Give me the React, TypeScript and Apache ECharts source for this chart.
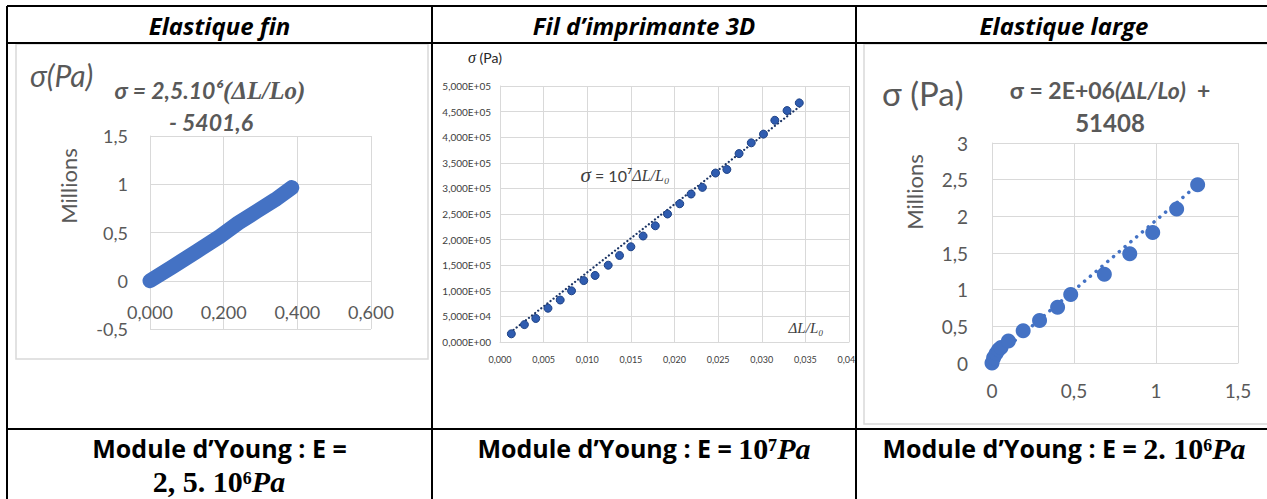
import React, { useEffect, useRef } from 'react';
import * as echarts from 'echarts';

const W = 1267;
const H = 499;

const SANS = 'Lato, "Liberation Sans", sans-serif';
const HEAD = '"Open Sans", "Liberation Sans", sans-serif';
const SERIF = '"Liberation Serif", "DejaVu Serif", serif';
const GREY = '#595959';
const GRID = '#d9d9d9';
const BLUE = '#4472c4';

// Table text
const headers = ['Elastique fin', 'Fil d’imprimante 3D', 'Elastique large'];

// Elastique fin: stress (millions of Pa) against strain ΔL/Lo
const finStrain = [0, 0.063, 0.127, 0.19, 0.24, 0.29, 0.34, 0.385];
const finStress = [0, 0.15, 0.305, 0.46, 0.6, 0.72, 0.84, 0.965];
const finXTicks = [0, 0.2, 0.4, 0.6];
const finYTicks = [-0.5, 0, 0.5, 1, 1.5];

// Fil d'imprimante 3D: stress (Pa) against strain ΔL/L0
const filStrain = [
  0.0013, 0.0028, 0.0041, 0.0055, 0.0069, 0.0082, 0.0096, 0.0109, 0.0124, 0.0137, 0.015, 0.0164, 0.0178,
  0.0192, 0.0206, 0.0219, 0.0232, 0.0247, 0.026, 0.0274, 0.0288, 0.0302, 0.0315, 0.0329, 0.0343,
];
const filStress = [
  16000, 34000, 46000, 66000, 82000, 100000, 120000, 130000, 150000, 169000, 186000, 207000, 227000,
  250000, 270000, 289000, 302000, 330000, 337000, 368000, 389000, 406000, 433000, 452000, 467000,
];
const filTrendStrain = [0.0012, 0.0345];
const filTrendStress = [19000, 462000];
const filXTicks = [0, 0.005, 0.01, 0.015, 0.02, 0.025, 0.03, 0.035, 0.04];
const filYTicks = [0, 50000, 100000, 150000, 200000, 250000, 300000, 350000, 400000, 450000, 500000];

// Elastique large: stress (millions of Pa) against strain ΔL/Lo
const largeStrain = [0, 0.01, 0.025, 0.04, 0.055, 0.1, 0.19, 0.29, 0.4, 0.48, 0.685, 0.84, 0.98, 1.126, 1.254];
const largeStress = [0, 0.07, 0.13, 0.18, 0.21, 0.3, 0.44, 0.58, 0.76, 0.935, 1.21, 1.49, 1.78, 2.1, 2.43];
const largeTrendStrain = [0, 1.254];
const largeTrendStress = [0.04, 2.43];
const largeXTicks = [0, 0.5, 1, 1.5];
const largeYTicks = [0, 0.5, 1, 1.5, 2, 2.5, 3];

const pairs = (xs: number[], ys: number[]) => xs.map((x, i) => [x, ys[i]]);
const comma = (s: string) => s.replace('.', ',');
const sci = (v: number) => {
  if (v === 0) return '0,000E+00';
  const e = Math.floor(Math.log10(v) + 1e-9);
  const m = v / Math.pow(10, e);
  return `${comma(m.toFixed(3))}E+${String(e).padStart(2, '0')}`;
};

const tickSpan = (t: number[]) => ({ min: t[0], max: t[t.length - 1], interval: t[1] - t[0] });

const baseAxis = (labelSize: number, color: string, margin: number) => ({
  type: 'value' as const,
  axisTick: { show: false },
  axisLine: { show: true, onZero: false, lineStyle: { color: GRID, width: 1 } },
  splitLine: { show: true, lineStyle: { color: GRID, width: 1 } },
  axisLabel: { fontSize: labelSize, color, margin, fontFamily: SANS },
});

const txt = (x: number, y: number, style: any, extra: any = {}) => ({
  type: 'text',
  x,
  y,
  z: 50,
  style: { align: 'center', verticalAlign: 'middle', fontFamily: SANS, ...style },
  ...extra,
});

const line = (x1: number, y1: number, x2: number, y2: number) => ({
  type: 'line',
  z: 60,
  shape: { x1, y1, x2, y2 },
  style: { stroke: '#000', lineWidth: 2 },
});

const youngRich = {
  t: { fontSize: 25, fontWeight: 'bold', fill: '#000', fontFamily: HEAD },
  n: { fontSize: 30, fontWeight: 'bold', fill: '#000', fontFamily: SERIF },
  p: { fontSize: 30, fontWeight: 'bold', fontStyle: 'italic', fill: '#000', fontFamily: SERIF },
};

export default function App() {
  const ref = useRef<HTMLDivElement>(null);

  useEffect(() => {
    document.body.style.margin = '0';
    if (!ref.current) return;
    const chart = echarts.init(ref.current, null, { renderer: 'svg', width: W, height: H });

    const colCenters = [219.5, 644, 1064];

    // Elastique fin grid: the strain axis crosses the stress axis at zero
    const finGrid = { left: 150, top: 136, width: 221, height: 193 };
    const finYMin = finYTicks[0];
    const finYMax = finYTicks[finYTicks.length - 1];
    const finZeroOffset = -((0 - finYMin) / (finYMax - finYMin)) * finGrid.height;

    const graphic: any[] = [
      // chart frames
      { type: 'rect', z: 1, shape: { x: 16, y: 44, width: 412, height: 315 }, style: { fill: 'none', stroke: GRID, lineWidth: 1.5 } },
      { type: 'rect', z: 1, shape: { x: 864, y: 44, width: 420, height: 380 }, style: { fill: 'none', stroke: GRID, lineWidth: 1.5 } },
      // the printer-filament picture is cut at its cell edge
      { type: 'rect', z: 55, shape: { x: 857, y: 350, width: 6, height: 24 }, style: { fill: '#fff' } },
      // table rules
      line(7, 6, W + 10, 6),
      line(7, 43, W + 10, 43),
      line(7, 429, W + 10, 429),
      line(7, 6, 7, H + 5),
      line(432, 6, 432, H + 5),
      line(856, 6, 856, H + 5),
      // headers
      ...headers.map((h, i) =>
        txt(colCenters[i], 25, { text: h, fontSize: 24, fontWeight: 'bold', fontStyle: 'italic', fill: '#000', fontFamily: HEAD })
      ),
      // Elastique fin annotations
      txt(30, 75, { text: 'σ(Pa)', fontSize: 30, fontStyle: 'italic', fill: GREY, align: 'left' }),
      txt(210, 90, {
        text: '{a|σ = 2,5.10⁶}{b|(ΔL/Lo)}',
        rich: {
          a: { fontSize: 23, fontWeight: 'bold', fontStyle: 'italic', fill: GREY, fontFamily: SANS },
          b: { fontSize: 25, fontWeight: 'bold', fontStyle: 'italic', fill: GREY, fontFamily: SERIF },
        },
      }),
      txt(211, 122, { text: '- 5401,6', fontSize: 23, fontWeight: 'bold', fontStyle: 'italic', fill: GREY }),
      txt(68, 186, { text: 'Millions', fontSize: 22, fill: GREY }, { rotation: Math.PI / 2 }),
      // Fil d'imprimante annotations
      txt(485, 57, {
        text: '{s|σ}{t| (Pa)}',
        rich: {
          s: { fontSize: 16, fontStyle: 'italic', fill: '#262626', fontFamily: SERIF },
          t: { fontSize: 14, fill: '#262626', fontFamily: SANS },
        },
      }),
      txt(625, 175, {
        text: '{s|σ}{t| = 10⁷}{m|ΔL/L₀}',
        rich: {
          s: { fontSize: 21, fontStyle: 'italic', fill: '#404040', fontFamily: SERIF },
          t: { fontSize: 16, fill: '#404040', fontFamily: SANS },
          m: { fontSize: 16, fontStyle: 'italic', fill: '#404040', fontFamily: SERIF },
        },
      }),
      txt(806, 328, { text: 'ΔL/L₀', fontSize: 15, fontStyle: 'italic', fill: '#404040', fontFamily: SERIF }),
      // Elastique large annotations
      txt(882, 93, { text: 'σ (Pa)', fontSize: 33, fill: GREY, align: 'left' }),
      txt(1110, 90, {
        text: '{a|σ = 2E+06}{b|(ΔL/Lo)}{a|  +}',
        rich: {
          a: { fontSize: 23, fontWeight: 'bold', fill: GREY, fontFamily: SANS },
          b: { fontSize: 23, fontWeight: 'bold', fontStyle: 'italic', fill: GREY, fontFamily: SANS },
        },
      }),
      txt(1110, 122, { text: '51408', fontSize: 24, fontWeight: 'bold', fill: GREY }),
      txt(914, 192, { text: 'Millions', fontSize: 22, fill: GREY }, { rotation: Math.PI / 2 }),
      // Young's modulus row
      txt(219.5, 448, { text: 'Module d’Young : E =', fontSize: 25, fontWeight: 'bold', fill: '#000', fontFamily: HEAD }),
      txt(219, 481, { text: '{n|2, 5. 10⁶}{p|Pa}', rich: youngRich }),
      txt(644, 448, { text: '{t|Module d’Young : E = }{n|10⁷}{p|Pa}', rich: youngRich }),
      txt(1064, 448, { text: '{t|Module d’Young : E = }{n|2. 10⁶}{p|Pa}', rich: youngRich }),
    ];

    const finX = baseAxis(18, GREY, 22);
    const finY = baseAxis(18, GREY, 22);
    const filX = baseAxis(9, '#404040', 13);
    const filY = baseAxis(10, '#404040', 9);
    const largeX = baseAxis(19, GREY, 18);
    const largeY = baseAxis(19, GREY, 24);

    chart.setOption({
      animation: false,
      backgroundColor: '#fff',
      textStyle: { fontFamily: SANS },
      grid: [
        finGrid,
        { left: 500, top: 86, width: 349, height: 256 },
        { left: 992, top: 143, width: 246, height: 220 },
      ],
      xAxis: [
        {
          ...finX,
          gridIndex: 0,
          offset: finZeroOffset,
          ...tickSpan(finXTicks),
          axisLabel: { ...finX.axisLabel, formatter: (v: number) => comma(v.toFixed(3)) },
        },
        { ...filX, gridIndex: 1, ...tickSpan(filXTicks), axisLabel: { ...filX.axisLabel, formatter: (v: number) => comma(v.toFixed(3)) } },
        { ...largeX, gridIndex: 2, ...tickSpan(largeXTicks), axisLabel: { ...largeX.axisLabel, formatter: (v: number) => comma(String(v)) } },
      ],
      yAxis: [
        { ...finY, gridIndex: 0, ...tickSpan(finYTicks), axisLabel: { ...finY.axisLabel, formatter: (v: number) => comma(String(v)) } },
        { ...filY, gridIndex: 1, ...tickSpan(filYTicks), axisLabel: { ...filY.axisLabel, formatter: sci } },
        { ...largeY, gridIndex: 2, ...tickSpan(largeYTicks), axisLabel: { ...largeY.axisLabel, formatter: (v: number) => comma(String(v)) } },
      ],
      series: [
        {
          type: 'line',
          xAxisIndex: 0,
          yAxisIndex: 0,
          data: pairs(finStrain, finStress),
          symbol: 'none',
          lineStyle: { color: BLUE, width: 15, cap: 'round', join: 'round' },
          z: 3,
        },
        {
          type: 'line',
          xAxisIndex: 1,
          yAxisIndex: 1,
          data: pairs(filTrendStrain, filTrendStress),
          symbol: 'none',
          lineStyle: { color: '#1c3566', width: 2.2, type: [0.1, 3.8], cap: 'round' },
          z: 2,
        },
        {
          type: 'scatter',
          xAxisIndex: 1,
          yAxisIndex: 1,
          data: pairs(filStrain, filStress),
          symbolSize: 8,
          itemStyle: { color: '#2f5cb0', borderColor: '#1f4386', borderWidth: 1, opacity: 1 },
          z: 3,
        },
        {
          type: 'line',
          xAxisIndex: 2,
          yAxisIndex: 2,
          data: pairs(largeTrendStrain, largeTrendStress),
          symbol: 'none',
          lineStyle: { color: BLUE, width: 3.5, type: [0.1, 7.5], cap: 'round' },
          z: 2,
        },
        {
          type: 'scatter',
          xAxisIndex: 2,
          yAxisIndex: 2,
          data: pairs(largeStrain, largeStress),
          symbolSize: 15,
          itemStyle: { color: BLUE, opacity: 1 },
          z: 3,
        },
      ],
      graphic,
    });

    return () => chart.dispose();
  }, []);

  return <div ref={ref} style={{ position: 'absolute', left: 0, top: 0, width: W, height: H }} />;
}
